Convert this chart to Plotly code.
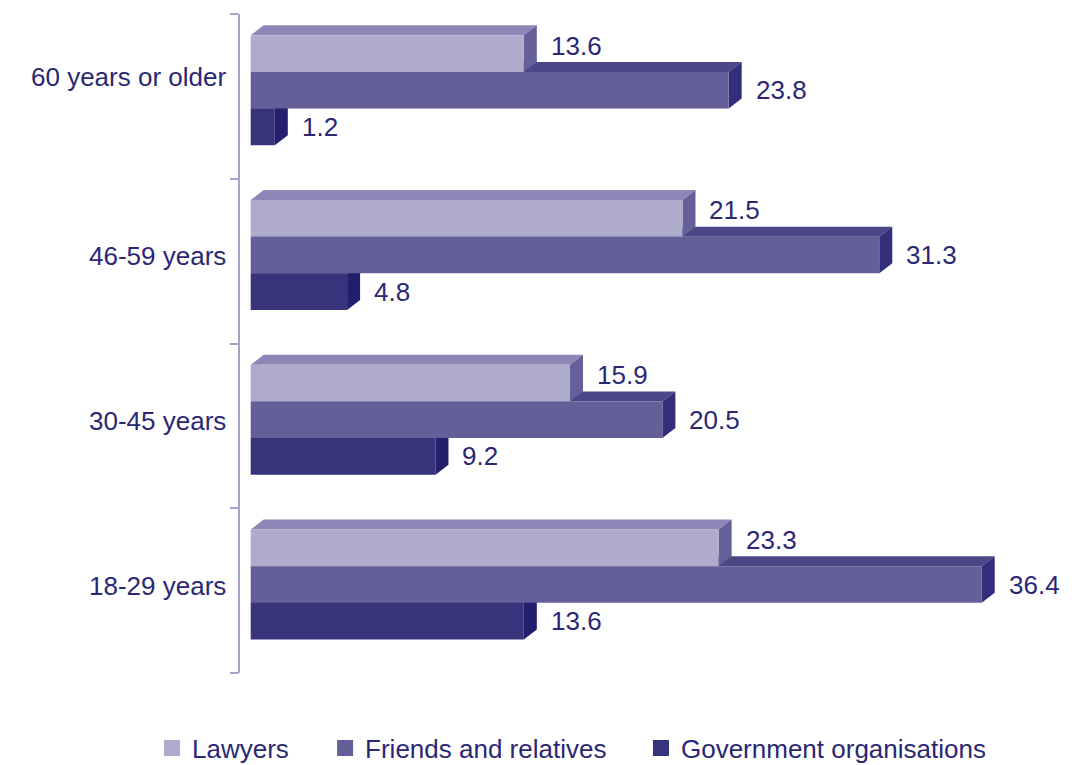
import plotly.graph_objects as go

# Age groups, bottom to top on the y axis
age_groups = ["18-29 years", "30-45 years", "46-59 years", "60 years or older"]

# Share of respondents (%) by source of help
lawyers = [23.3, 15.9, 21.5, 13.6]
friends_relatives = [36.4, 20.5, 31.3, 23.8]
government_orgs = [13.6, 9.2, 4.8, 1.2]

series_names = ["Lawyers", "Friends and relatives", "Government organisations"]

# --- styling -------------------------------------------------------------
TEXT = "#2a2874"
AXIS = "#a6a2cc"
FONT = "Liberation Sans, Arial, sans-serif"
FONT_SIZE = 26

# front / top / side face colours for the extruded bars
faces = {
    "Lawyers": ("#aeabcc", "#8c87b6", "#655f9a"),
    "Friends and relatives": ("#645e99", "#4b4787", "#322e7b"),
    "Government organisations": ("#38347c", "#2a2673", "#231e6e"),
}

BAR_H = 0.2226            # thickness of each bar (category units)
OFFSETS = [0.2596, 0.037, -0.1856]   # bar centres relative to category
DEPTH_X = 0.647           # extrusion depth along x (data units)
DEPTH_Y = 0.0607          # extrusion depth along y (category units)
LABEL_YSHIFT = [8, 0, 0]  # value label nudge per series (px)
CAT_LABEL_YSHIFT = {"60 years or older": 19}

values = [lawyers, friends_relatives, government_orgs]

fig = go.Figure()
shapes = []

# side and top faces, drawn back (government) to front (lawyers)
for s in [2, 1, 0]:
    name = series_names[s]
    front, top, side = faces[name]
    for c, v in enumerate(values[s]):
        yc = c + OFFSETS[s]
        y0, y1 = yc - BAR_H / 2, yc + BAR_H / 2
        shapes.append(dict(
            type="path", xref="x", yref="y", layer="below",
            path=f"M 0,{y1} L {DEPTH_X},{y1 + DEPTH_Y} L {v + DEPTH_X},{y1 + DEPTH_Y} L {v},{y1} Z",
            fillcolor=top, line=dict(width=0),
        ))
        shapes.append(dict(
            type="path", xref="x", yref="y", layer="below",
            path=f"M {v},{y0} L {v},{y1} L {v + DEPTH_X},{y1 + DEPTH_Y} L {v + DEPTH_X},{y0 + DEPTH_Y} Z",
            fillcolor=side, line=dict(width=0),
        ))

# front faces
for s, name in enumerate(series_names):
    fig.add_trace(go.Bar(
        x=values[s],
        y=[c + OFFSETS[s] for c in range(len(age_groups))],
        orientation="h",
        width=BAR_H,
        marker=dict(color=faces[name][0], line=dict(width=0)),
        showlegend=False,
        hoverinfo="skip",
    ))

# legend entries, one legend per series so each can be placed on its own
legend_ids = ["legend", "legend2", "legend3"]
legend_x = [-0.1081, 0.1045, 0.4926]
for s, name in enumerate(series_names):
    fig.add_trace(go.Scatter(
        x=[None], y=[None], mode="markers", name=name,
        marker=dict(symbol="square", size=16, color=faces[name][0]),
        legend=legend_ids[s],
    ))

annotations = []
# value labels
for s in range(3):
    for c, v in enumerate(values[s]):
        annotations.append(dict(
            x=v, y=c + OFFSETS[s], xref="x", yref="y",
            text=f"{v}", showarrow=False, xanchor="left", yanchor="middle",
            xshift=25, yshift=LABEL_YSHIFT[s],
            font=dict(family=FONT, size=FONT_SIZE, color=TEXT),
        ))
# category labels
for c, label in enumerate(age_groups):
    annotations.append(dict(
        x=0, y=c, xref="paper", yref="y",
        text=label, showarrow=False, xanchor="right", yanchor="middle",
        xshift=-12, yshift=CAT_LABEL_YSHIFT.get(label, 5),
        font=dict(family=FONT, size=FONT_SIZE, color=TEXT),
    ))

legend_common = dict(
    orientation="h", yanchor="middle", y=-0.1138, xanchor="left",
    font=dict(family=FONT, size=FONT_SIZE, color=TEXT),
    bgcolor="rgba(0,0,0,0)", itemwidth=30,
)

fig.update_layout(
    width=1084, height=765,
    margin=dict(l=240, r=30, t=14, b=92, autoexpand=False),
    paper_bgcolor="white", plot_bgcolor="white",
    barmode="overlay",
    shapes=shapes,
    annotations=annotations,
    font=dict(family=FONT, size=FONT_SIZE, color=TEXT),
    legend=dict(x=legend_x[0], **legend_common),
    legend2=dict(x=legend_x[1], **legend_common),
    legend3=dict(x=legend_x[2], **legend_common),
    xaxis=dict(range=[-0.533, 40.0], visible=False, fixedrange=True),
    yaxis=dict(
        range=[-0.5, 3.5], showgrid=False, zeroline=False,
        showline=True, linecolor=AXIS, linewidth=2,
        tickvals=[-0.5, 0.5, 1.5, 2.5, 3.5], ticktext=["", "", "", "", ""],
        ticks="outside", ticklen=8, tickwidth=2, tickcolor=AXIS,
        fixedrange=True,
    ),
)

fig.write_html("out.html")
